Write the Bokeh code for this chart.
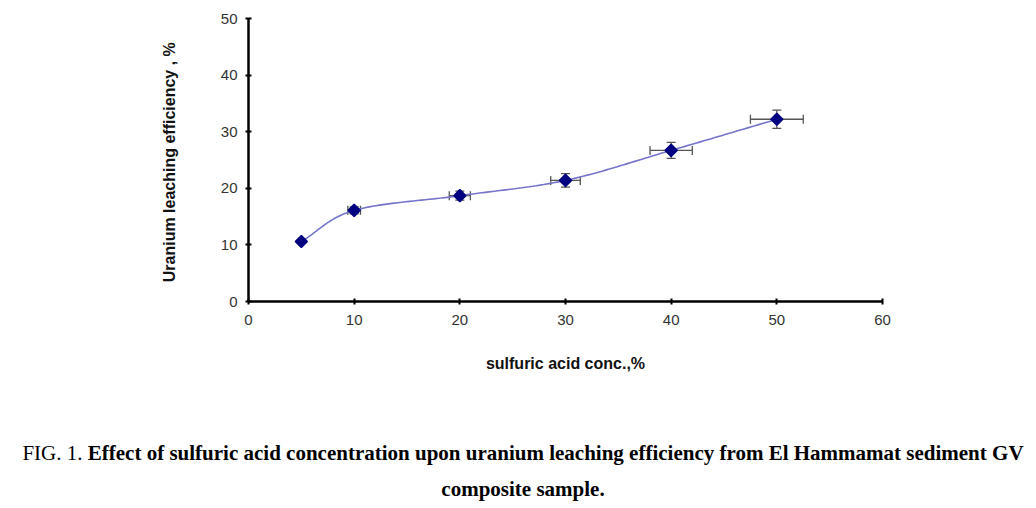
import numpy as np
from bokeh.plotting import figure
from bokeh.models import Range1d, Whisker, ColumnDataSource, FixedTicker, Div
from bokeh.layouts import column
from bokeh.embed import file_html
from bokeh.resources import INLINE

acid_conc = [5, 10, 20, 30, 40, 50]
efficiency = [10.6, 16.1, 18.7, 21.4, 26.7, 32.2]
x_err = [0.2, 0.6, 1.0, 1.4, 2.0, 2.5]
y_err = [0.2, 0.6, 0.8, 1.2, 1.4, 1.6]
x_ticks = [0, 10, 20, 30, 40, 50, 60]
y_ticks = [0, 10, 20, 30, 40, 50]
caption_label = "FIG. 1."
caption_line1 = "Effect of sulfuric acid concentration upon uranium leaching efficiency from El Hammamat sediment GV"
caption_line2 = "composite sample."

W, H = 1030, 400
p = figure(width=W, height=H, output_backend="svg", toolbar_location=None,
           x_range=Range1d(0, 60), y_range=Range1d(0, 50),
           min_border_left=248, min_border_right=W - 882, min_border_top=18, min_border_bottom=H - 301)
p.outline_line_color = None
p.grid.grid_line_color = None
p.background_fill_color = "white"
p.border_fill_color = "white"

for ax in (p.xaxis[0], p.yaxis[0]):
    ax.axis_line_width = 2.5
    ax.axis_line_color = "black"
    ax.major_tick_line_width = 2
    ax.major_tick_in = 3
    ax.major_tick_out = 3
    ax.minor_tick_line_color = None
    ax.major_label_text_font = "Liberation Sans"
    ax.major_label_text_font_size = "15px"
    ax.major_label_text_color = "#333333"
    ax.axis_label_text_font = "Liberation Sans"
    ax.axis_label_text_font_style = "bold"
    ax.axis_label_text_font_size = "16px"
    ax.axis_label_text_color = "#111111"

p.xaxis.ticker = FixedTicker(ticks=x_ticks)
p.yaxis.ticker = FixedTicker(ticks=y_ticks)
p.xaxis.axis_label = "sulfuric acid conc.,%"
p.yaxis.axis_label = "Uranium leaching efficiency  , %"
p.xaxis.axis_label_standoff = 27
p.yaxis.axis_label_standoff = 40
p.xaxis.major_label_standoff = 10
p.yaxis.major_label_standoff = 8

# smoothed curve (Bezier smoothing like a spreadsheet's smoothed line)
xs = np.array(acid_conc, float) / 60.0 * 634
ys = np.array(efficiency, float) / 50.0 * 283
P = np.column_stack([xs, ys])
P_ext = np.vstack([P[0] - (P[1] - P[0]), P, P[-1] + (P[-1] - P[-2])])
cx, cy = [], []
for i in range(1, len(P_ext) - 2):
    p0, p1, p2, p3 = P_ext[i - 1], P_ext[i], P_ext[i + 1], P_ext[i + 2]
    b1 = p1 + (p2 - p0) / 6.0
    b2 = p2 - (p3 - p1) / 6.0
    for t in np.linspace(0, 1, 30):
        pt = (1 - t) ** 3 * p1 + 3 * (1 - t) ** 2 * t * b1 + 3 * (1 - t) * t ** 2 * b2 + t ** 3 * p2
        cx.append(pt[0] / 634 * 60.0)
        cy.append(pt[1] / 283 * 50.0)
p.line(cx, cy, line_color="#7474cc", line_width=1.6)

src = ColumnDataSource(dict(
    x=acid_conc, y=efficiency,
    xl=[a - e for a, e in zip(acid_conc, x_err)], xu=[a + e for a, e in zip(acid_conc, x_err)],
    yl=[a - e for a, e in zip(efficiency, y_err)], yu=[a + e for a, e in zip(efficiency, y_err)],
))
for dim, base, lo, up in (("width", "y", "xl", "xu"), ("height", "x", "yl", "yu")):
    w = Whisker(source=src, base=base, lower=lo, upper=up, dimension=dim,
                line_color="#555555", line_width=1.3)
    w.upper_head.line_color = "#555555"; w.lower_head.line_color = "#555555"
    w.upper_head.line_width = 1.3; w.lower_head.line_width = 1.3
    w.upper_head.size = 9; w.lower_head.size = 9
    p.add_layout(w)
p.scatter("x", "y", source=src, marker="square", angle=np.pi / 4, size=8.5,
          fill_color="#000080", line_color="#000080", line_width=1.5)

cap = Div(width=1036, height=100, text=(
    '<div style="width:1036px;text-align:center;font-family:\'Liberation Serif\';font-size:21px;'
    'line-height:36px;color:#000;margin-top:30px;white-space:nowrap;">'
    f'{caption_label} <b>{caption_line1}</b><br><b>{caption_line2}</b></div>'))

open("out.html", "w").write(file_html(column(p, cap, spacing=0), INLINE))
